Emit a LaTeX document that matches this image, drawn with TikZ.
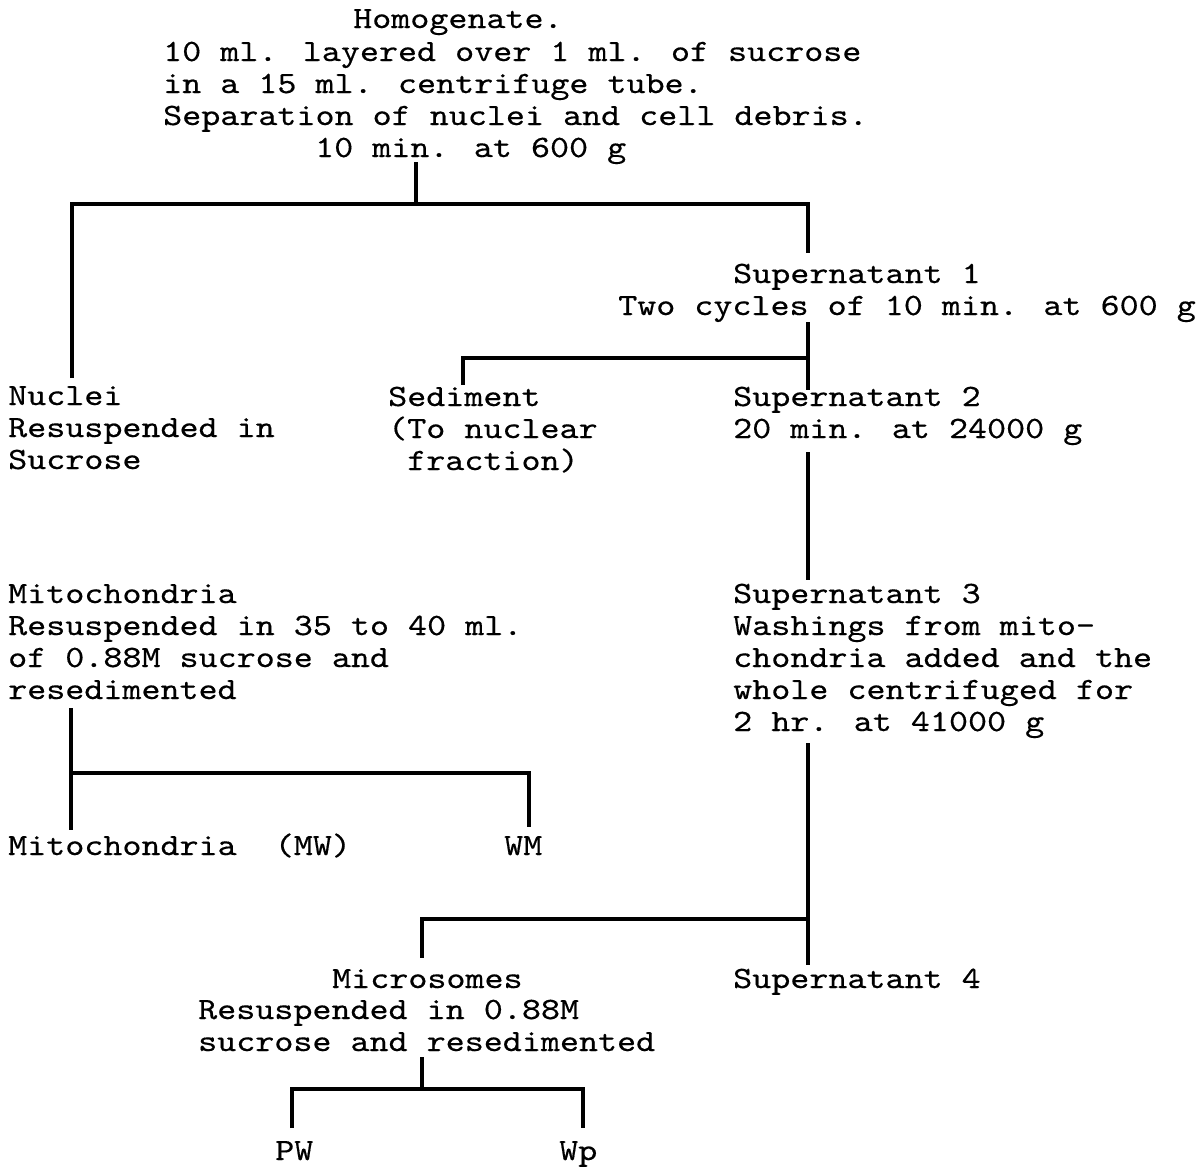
\documentclass[tikz,border=0pt]{standalone}
\usepackage{fontspec}
\newfontfamily\tw{lmmono10-regular.otf}[FakeStretch=1.17,FakeBold=0.4]
\begin{document}
\begin{tikzpicture}[x=1pt,y=-1pt,
  txt/.style={anchor=base west,inner sep=0pt,font=\tw\fontsize{31}{32}\selectfont},
  tree/.style={line width=3.8pt,line cap=butt,line join=miter}]
\useasboundingbox[fill=white] (0,0) rectangle (1203,1168);
% ---- Homogenate block
\node[txt] (h1) at (353,28) {Homogenate.};
\node[txt] (h2) at (163,61) {10 ml. layered over 1 ml. of sucrose};
\node[txt] (h3) at (163,93) {in a 15 ml. centrifuge tube.};
\node[txt] (h4) at (163,125) {Separation of nuclei and cell debris.};
\node[txt] (h5) at (315,157) {10 min. at 600 g};
% ---- Nuclei
\node[txt] (n1) at (8,405) {Nuclei};
\node[txt] (n2) at (8,437) {Resuspended in};
\node[txt] (n3) at (8,469) {Sucrose};
% ---- Supernatant 1
\node[txt] (s11) at (733,283) {Supernatant 1};
\node[txt] (s12) at (618,315) {Two cycles of 10 min. at 600 g};
% ---- Sediment
\node[txt] (d1) at (388,406) {Sediment};
\node[txt] (d2) at (388,438) {(To nuclear};
\node[txt] (d3) at (388,470) {\ fraction)};
% ---- Supernatant 2
\node[txt] (s21) at (733,406) {Supernatant 2};
\node[txt] (s22) at (733,438) {20 min. at 24000 g};
% ---- Mitochondria
\node[txt] (m1) at (8,603) {Mitochondria};
\node[txt] (m2) at (8,635) {Resuspended in 35 to 40 ml.};
\node[txt] (m3) at (8,667) {of 0.88M sucrose and};
\node[txt] (m4) at (8,699) {resedimented};
\node[txt] (mw) at (8,855) {Mitochondria\ \ (MW)};
\node[txt] (wm) at (504,855) {WM};
% ---- Supernatant 3
\node[txt] (s31) at (733,603) {Supernatant 3};
\node[txt] (s32) at (733,635) {Washings from mito-};
\node[txt] (s33) at (733,667) {chondria added and the};
\node[txt] (s34) at (733,699) {whole centrifuged for};
\node[txt] (s35) at (733,731) {2 hr. at 41000 g};
% ---- Microsomes & Supernatant 4
\node[txt] (c1) at (332,988) {Microsomes};
\node[txt] (c2) at (198,1019) {Resuspended in 0.88M};
\node[txt] (c3) at (198,1051) {sucrose and resedimented};
\node[txt] (s4) at (733,988) {Supernatant 4};
\node[txt] (pw) at (275,1160) {PW};
\node[txt] (wp) at (559,1160) {Wp};
% ---- junction coordinates
\coordinate (a0) at (416,162);
\coordinate (a1) at (416,204);
\coordinate (aL) at (72,204);
\coordinate (aLe) at (72,378);
\coordinate (aR) at (808,204);
\coordinate (aRe) at (808,253);
\coordinate (b0) at (808,322);
\coordinate (b1) at (808,358);
\coordinate (bL) at (463,358);
\coordinate (bLe) at (463,385);
\coordinate (b2) at (808,390);
\coordinate (c0) at (808,452);
\coordinate (c1e) at (808,580);
\coordinate (m0) at (71,708);
\coordinate (m1j) at (71,773);
\coordinate (m1e) at (71,830);
\coordinate (mR) at (529,773);
\coordinate (mRe) at (529,827);
\coordinate (e0) at (808,743);
\coordinate (e1) at (808,919);
\coordinate (e2) at (808,965);
\coordinate (eL) at (422,919);
\coordinate (eLe) at (422,958);
\coordinate (f0) at (422,1057);
\coordinate (f1) at (422,1089);
\coordinate (fL) at (292,1089);
\coordinate (fLe) at (292,1128);
\coordinate (fR) at (583,1089);
\coordinate (fRe) at (583,1128);
% ---- tree lines
\draw[tree] (a0) -- (a1);
\draw[tree] (aLe) -- (aL) -- (aR) -- (aRe);
\draw[tree] (b0) -- (b2);
\draw[tree] (b1) -- (bL) -- (bLe);
\draw[tree] (c0) -- (c1e);
\draw[tree] (m0) -- (m1e);
\draw[tree] (m1j) -- (mR) -- (mRe);
\draw[tree] (e0) -- (e2);
\draw[tree] (e1) -- (eL) -- (eLe);
\draw[tree] (f0) -- (f1);
\draw[tree] (fLe) -- (fL) -- (fR) -- (fRe);
\end{tikzpicture}
\end{document}
